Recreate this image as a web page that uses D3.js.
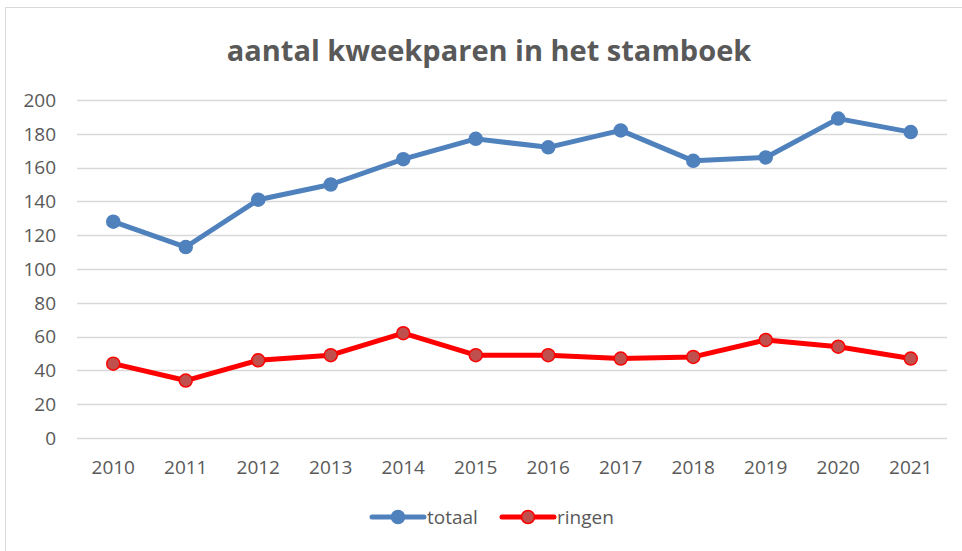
<!DOCTYPE html>
<html lang="nl">
<head>
<meta charset="UTF-8">
<title>aantal kweekparen in het stamboek</title>
<style>
  body { margin: 0; background: #fff; }
  svg text { font-family: "Open Sans", "Noto Sans", sans-serif; fill: #595959; }
</style>
</head>
<body>
<div id="chart"></div>
<script src="https://cdn.jsdelivr.net/npm/d3@7"></script>
<script>
var years = ["2010","2011","2012","2013","2014","2015","2016","2017","2018","2019","2020","2021"];
var totaal = [128, 113, 141, 150, 165, 177, 172, 182, 164, 166, 189, 181];
var ringen = [44, 34, 46, 49, 62, 49, 49, 47, 48, 58, 54, 47];
var yTicks = [0, 20, 40, 60, 80, 100, 120, 140, 160, 180, 200];

var W = 962, H = 551;
var plot = {left: 77, right: 947, top: 100, bottom: 438};

var svg = d3.select("#chart").append("svg")
    .attr("width", W).attr("height", H);

// outer frame
svg.append("rect")
    .attr("x", 5.5).attr("y", 7.5)
    .attr("width", W + 10).attr("height", H + 10)
    .attr("fill", "none").attr("stroke", "#d9d9d9").attr("stroke-width", 1);

var x = d3.scaleBand().domain(years).range([plot.left, plot.right]);
var y = d3.scaleLinear().domain([0, 200]).range([plot.bottom, plot.top]);

// gridlines
svg.append("g").selectAll("line").data(yTicks).enter()
    .append("line")
    .attr("x1", plot.left).attr("x2", plot.right)
    .attr("y1", function(d) { return Math.round(y(d)) + 0.5; })
    .attr("y2", function(d) { return Math.round(y(d)) + 0.5; })
    .attr("stroke", "#d9d9d9").attr("stroke-width", 1.3);

// y labels
svg.append("g").selectAll("text").data(yTicks).enter()
    .append("text")
    .attr("x", 56).attr("y", function(d) { return y(d); })
    .attr("dy", "0.36em")
    .attr("text-anchor", "end")
    .style("font-size", "19px")
    .text(function(d) { return d; });

// x labels
svg.append("g").selectAll("text").data(years).enter()
    .append("text")
    .attr("x", function(d) { return x(d) + x.bandwidth() / 2; })
    .attr("y", 474)
    .attr("text-anchor", "middle")
    .style("font-size", "19px")
    .text(function(d) { return d; });

// title
svg.append("text")
    .attr("x", 489).attr("y", 61)
    .attr("text-anchor", "middle")
    .style("font-size", "29px").style("font-weight", "bold")
    .text("aantal kweekparen in het stamboek");

var series = [
    {name: "totaal", values: totaal, line: "#4f81bd", fill: "#4f81bd", stroke: "#4f81bd"},
    {name: "ringen", values: ringen, line: "#ff0000", fill: "#c0504d", stroke: "#ff0000"}
];

var line = d3.line()
    .x(function(d, i) { return x(years[i]) + x.bandwidth() / 2; })
    .y(function(d) { return y(d); });

series.forEach(function(s) {
    svg.append("path")
        .datum(s.values)
        .attr("d", line)
        .attr("fill", "none")
        .attr("stroke", s.line)
        .attr("stroke-width", 5)
        .attr("stroke-linejoin", "round");
    svg.append("g").selectAll("circle").data(s.values).enter()
        .append("circle")
        .attr("cx", function(d, i) { return x(years[i]) + x.bandwidth() / 2; })
        .attr("cy", function(d) { return y(d); })
        .attr("r", 6.5)
        .attr("fill", s.fill)
        .attr("stroke", s.stroke)
        .attr("stroke-width", 1.5);
});

// legend
var legendX = [372, 502];
series.forEach(function(s, i) {
    var g = svg.append("g").attr("transform", "translate(" + legendX[i] + ",517)");
    g.append("line")
        .attr("x1", 0).attr("x2", 52)
        .attr("stroke", s.line).attr("stroke-width", 5).attr("stroke-linecap", "round");
    g.append("circle")
        .attr("cx", 26).attr("r", 6.5)
        .attr("fill", s.fill).attr("stroke", s.stroke).attr("stroke-width", 1.5);
    g.append("text")
        .attr("x", 55).attr("dy", "0.36em")
        .style("font-size", "19px")
        .text(s.name);
});
</script>
</body>
</html>
